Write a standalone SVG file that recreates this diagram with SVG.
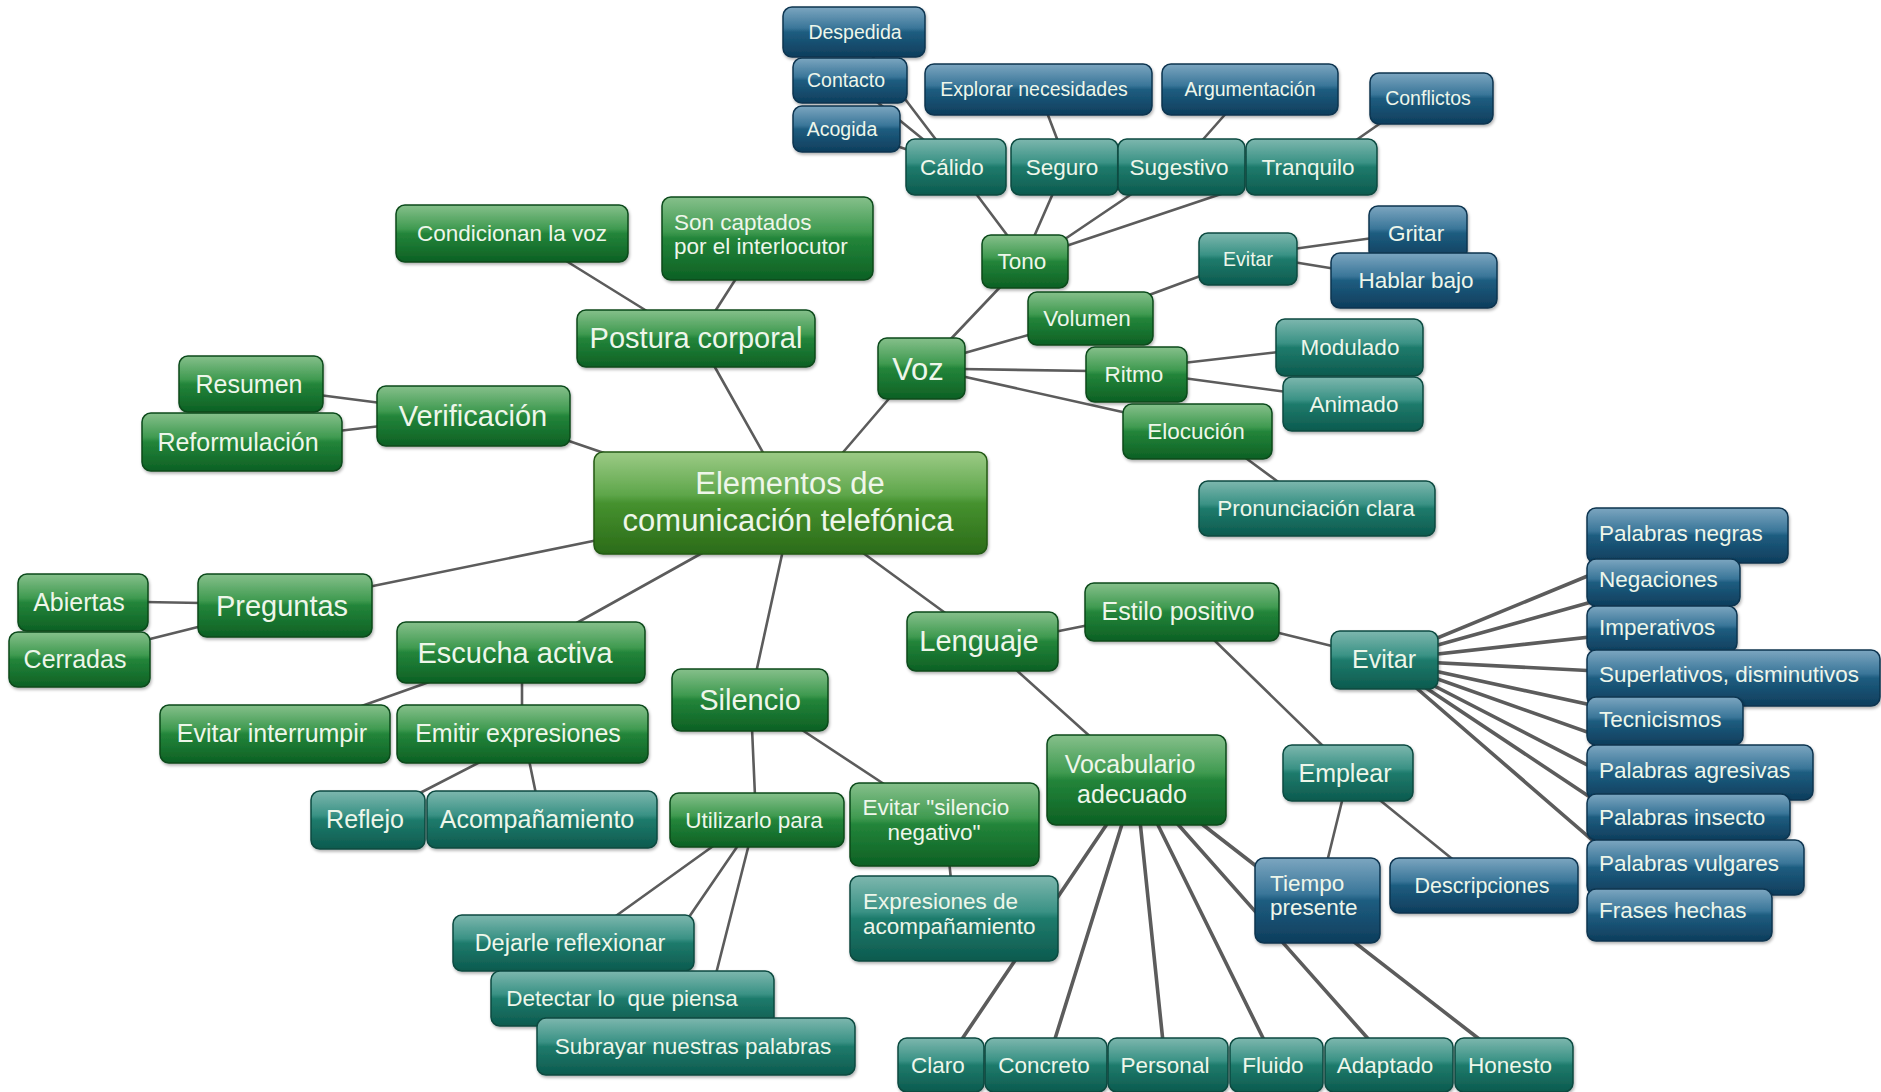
<svg xmlns="http://www.w3.org/2000/svg" width="1881" height="1092" viewBox="0 0 1881 1092">
<defs>
<linearGradient id="gG" x1="0" y1="0" x2="0" y2="1"><stop offset="0" stop-color="#86c08b"/><stop offset="0.42" stop-color="#3f9a50"/><stop offset="0.5" stop-color="#23853a"/><stop offset="1" stop-color="#0d6024"/></linearGradient>
<linearGradient id="gT" x1="0" y1="0" x2="0" y2="1"><stop offset="0" stop-color="#7db7ae"/><stop offset="0.42" stop-color="#3a9285"/><stop offset="0.5" stop-color="#1f7b6c"/><stop offset="1" stop-color="#0c5a4e"/></linearGradient>
<linearGradient id="gB" x1="0" y1="0" x2="0" y2="1"><stop offset="0" stop-color="#7ca6c0"/><stop offset="0.42" stop-color="#3a7699"/><stop offset="0.5" stop-color="#1e5d80"/><stop offset="1" stop-color="#0e3d5c"/></linearGradient>
<linearGradient id="gC" x1="0" y1="0" x2="0" y2="1"><stop offset="0" stop-color="#9ccb86"/><stop offset="0.42" stop-color="#5ea64a"/><stop offset="0.5" stop-color="#46922f"/><stop offset="1" stop-color="#2b6b18"/></linearGradient>
<filter id="sh" x="-10%" y="-10%" width="120%" height="130%"><feDropShadow dx="1" dy="2" stdDeviation="1.5" flood-color="#000" flood-opacity="0.3"/></filter>
</defs>
<style>
.c{stroke:#5c5c5c;stroke-width:2.6;stroke-linecap:round;fill:none}
.k{stroke-width:3.6}
rect{rx:9px;ry:9px;filter:url(#sh);stroke-width:1.5}
.g{fill:url(#gG);stroke:#0a4a1a}
.t{fill:url(#gT);stroke:#0a4a40}
.b{fill:url(#gB);stroke:#0b3450}
.cn{fill:url(#gC);stroke:#245a14}
text{font-family:"Liberation Sans",Arial,sans-serif;fill:#eef6ea;text-anchor:middle}
.l{text-anchor:start}
.s31{font-size:31px}.s29{font-size:29px}.s25{font-size:25px}.s23{font-size:22.5px}.s20{font-size:19.5px}
</style>
<rect x="0" y="0" width="1881" height="1092" style="fill:#fff;filter:none;stroke:none;rx:0;ry:0"/>
<g id="connectors">
<line class="c" x1="712" y1="362" x2="766" y2="458"/>
<line class="c" x1="893" y1="394" x2="839" y2="457"/>
<line class="c" x1="566" y1="440" x2="604" y2="453"/>
<line class="c" x1="368" y1="587" x2="598" y2="540"/>
<line class="c" x1="573" y1="625" x2="704" y2="552"/>
<line class="c" x1="756" y1="673" x2="783" y2="550"/>
<line class="c" x1="859" y1="550" x2="948" y2="615"/>
<line class="c" x1="563" y1="259" x2="650" y2="313"/>
<line class="c" x1="737" y1="277" x2="714" y2="313"/>
<line class="c" x1="319" y1="395" x2="381" y2="403"/>
<line class="c" x1="338" y1="431" x2="381" y2="426"/>
<line class="c" x1="144" y1="602" x2="202" y2="603"/>
<line class="c" x1="146" y1="640" x2="202" y2="626"/>
<line class="c" x1="356" y1="708" x2="432" y2="681"/>
<line class="c" x1="522" y1="680" x2="522" y2="708"/>
<line class="c" x1="418" y1="794" x2="484" y2="760"/>
<line class="c" x1="529" y1="760" x2="536" y2="794"/>
<line class="c" x1="752" y1="728" x2="755" y2="796"/>
<line class="c" x1="799" y1="728" x2="887" y2="786"/>
<line class="c" x1="716" y1="844" x2="613" y2="918"/>
<line class="c" x1="739" y1="844" x2="650" y2="974"/>
<line class="c" x1="749" y1="844" x2="704" y2="1021"/>
<line class="c" x1="949" y1="860" x2="951" y2="880"/>
<line class="c" x1="1054" y1="632" x2="1089" y2="625"/>
<line class="c" x1="1014" y1="668" x2="1094" y2="740"/>
<line class="c" x1="1275" y1="632" x2="1336" y2="647"/>
<line class="c" x1="1212" y1="638" x2="1325" y2="748"/>
<line class="c" x1="1343" y1="797" x2="1327" y2="862"/>
<line class="c" x1="1376" y1="797" x2="1456" y2="862"/>
<line class="c k" x1="1384" y1="660" x2="1687" y2="535"/>
<line class="c k" x1="1384" y1="660" x2="1663" y2="582"/>
<line class="c k" x1="1384" y1="660" x2="1662" y2="629"/>
<line class="c k" x1="1384" y1="660" x2="1733" y2="678"/>
<line class="c k" x1="1384" y1="660" x2="1665" y2="721"/>
<line class="c k" x1="1384" y1="660" x2="1700" y2="772"/>
<line class="c k" x1="1384" y1="660" x2="1688" y2="817"/>
<line class="c k" x1="1384" y1="660" x2="1695" y2="867"/>
<line class="c k" x1="1384" y1="660" x2="1679" y2="915"/>
<line class="c k" x1="1109" y1="821" x2="960" y2="1042"/>
<line class="c k" x1="1123" y1="821" x2="1054" y2="1042"/>
<line class="c k" x1="1140" y1="821" x2="1163" y2="1042"/>
<line class="c k" x1="1156" y1="821" x2="1265" y2="1042"/>
<line class="c k" x1="1175" y1="821" x2="1371" y2="1042"/>
<line class="c k" x1="1198" y1="821" x2="1483" y2="1042"/>
<line class="c" x1="1003" y1="284" x2="947" y2="343"/>
<line class="c" x1="1032" y1="334" x2="961" y2="354"/>
<line class="c" x1="961" y1="369" x2="1091" y2="371"/>
<line class="c" x1="961" y1="376" x2="1127" y2="413"/>
<line class="c" x1="974" y1="191" x2="1010" y2="239"/>
<line class="c" x1="1054" y1="191" x2="1033" y2="239"/>
<line class="c" x1="1136" y1="191" x2="1062" y2="241"/>
<line class="c" x1="1230" y1="191" x2="1060" y2="248"/>
<line class="c" x1="854" y1="32" x2="956" y2="166"/>
<line class="c" x1="850" y1="80" x2="956" y2="166"/>
<line class="c" x1="846" y1="129" x2="956" y2="166"/>
<line class="c" x1="1046" y1="110" x2="1059" y2="144"/>
<line class="c" x1="1229" y1="110" x2="1199" y2="144"/>
<line class="c" x1="1352" y1="143" x2="1385" y2="120"/>
<line class="c" x1="1149" y1="295" x2="1203" y2="275"/>
<line class="c" x1="1293" y1="249" x2="1373" y2="238"/>
<line class="c" x1="1293" y1="262" x2="1336" y2="269"/>
<line class="c" x1="1183" y1="363" x2="1279" y2="352"/>
<line class="c" x1="1183" y1="378" x2="1287" y2="392"/>
<line class="c" x1="1243" y1="456" x2="1281" y2="484"/>
</g>
<g id="central"><rect class="cn" x="594" y="452" width="393" height="102"/><text class="s31" x="790" y="494">Elementos de</text><text class="s31" x="788" y="531">comunicación telefónica</text></g>
<g id="postura"><rect class="g" x="577" y="310" width="238" height="57"/><text class="s29" x="696" y="348">Postura corporal</text></g>
<g id="condicionan"><rect class="g" x="396" y="205" width="232" height="57"/><text class="s23" x="512" y="241">Condicionan la voz</text></g>
<g id="son-captados"><rect class="g" x="662" y="197" width="211" height="83"/><text class="s23 l" x="674" y="230">Son captados</text><text class="s23 l" x="674" y="254">por el interlocutor</text></g>
<g id="verificacion"><rect class="g" x="377" y="386" width="193" height="60"/><text class="s29" x="473" y="426">Verificación</text></g>
<g id="resumen"><rect class="g" x="179" y="356" width="144" height="56"/><text class="s25" x="249" y="393">Resumen</text></g>
<g id="reformulacion"><rect class="g" x="142" y="413" width="200" height="58"/><text class="s25" x="238" y="451">Reformulación</text></g>
<g id="preguntas"><rect class="g" x="198" y="574" width="174" height="63"/><text class="s29" x="282" y="616">Preguntas</text></g>
<g id="abiertas"><rect class="g" x="18" y="574" width="130" height="57"/><text class="s25" x="79" y="611">Abiertas</text></g>
<g id="cerradas"><rect class="g" x="9" y="632" width="141" height="55"/><text class="s25" x="75" y="668">Cerradas</text></g>
<g id="escucha-activa"><rect class="g" x="397" y="622" width="248" height="61"/><text class="s29" x="515" y="663">Escucha activa</text></g>
<g id="evitar-interrumpir"><rect class="g" x="160" y="705" width="230" height="58"/><text class="s25" x="272" y="742">Evitar interrumpir</text></g>
<g id="emitir-expresiones"><rect class="g" x="397" y="705" width="251" height="58"/><text class="s25" x="518" y="742">Emitir expresiones</text></g>
<g id="reflejo"><rect class="t" x="311" y="791" width="114" height="58"/><text class="s25" x="365" y="828">Reflejo</text></g>
<g id="acompanamiento"><rect class="t" x="427" y="791" width="230" height="57"/><text class="s25" x="537" y="828">Acompañamiento</text></g>
<g id="silencio"><rect class="g" x="672" y="669" width="156" height="62"/><text class="s29" x="750" y="710">Silencio</text></g>
<g id="utilizarlo-para"><rect class="g" x="670" y="793" width="174" height="54"/><text class="s23" x="754" y="828">Utilizarlo para</text></g>
<g id="evitar-silencio"><rect class="g" x="850" y="783" width="189" height="83"/><text class="s23" x="936" y="815">Evitar "silencio</text><text class="s23" x="934" y="840">negativo"</text></g>
<g id="dejarle"><rect class="t" x="453" y="915" width="241" height="56"/><text class="s23" x="570" y="951" style="font-size:23.5px">Dejarle reflexionar</text></g>
<g id="detectar"><rect class="t" x="491" y="971" width="283" height="55"/><text class="s23" x="622" y="1006" xml:space="preserve">Detectar lo  que piensa</text></g>
<g id="subrayar"><rect class="t" x="537" y="1018" width="318" height="57"/><text class="s23" x="693" y="1054">Subrayar nuestras palabras</text></g>
<g id="expresiones"><rect class="t" x="850" y="876" width="208" height="85"/><text class="s23 l" x="863" y="909">Expresiones de</text><text class="s23 l" x="863" y="934">acompañamiento</text></g>
<g id="lenguaje"><rect class="g" x="907" y="612" width="151" height="59"/><text class="s29" x="979" y="651">Lenguaje</text></g>
<g id="estilo-positivo"><rect class="g" x="1085" y="583" width="194" height="58"/><text class="s25" x="1178" y="620">Estilo positivo</text></g>
<g id="vocabulario"><rect class="g" x="1047" y="735" width="179" height="90"/><text class="s25" x="1130" y="773">Vocabulario</text><text class="s25" x="1132" y="803">adecuado</text></g>
<g id="evitar-lenguaje"><rect class="t" x="1331" y="631" width="107" height="58"/><text class="s25" x="1384" y="668">Evitar</text></g>
<g id="emplear"><rect class="t" x="1283" y="745" width="130" height="56"/><text class="s25" x="1345" y="782">Emplear</text></g>
<g id="tiempo-presente"><rect class="b" x="1255" y="858" width="125" height="85"/><text class="s23 l" x="1270" y="891">Tiempo</text><text class="s23 l" x="1270" y="915">presente</text></g>
<g id="descripciones"><rect class="b" x="1390" y="858" width="188" height="55"/><text class="s23" x="1482" y="893" style="font-size:21.5px">Descripciones</text></g>
<g id="palabras-negras"><rect class="b" x="1587" y="508" width="201" height="55"/><text class="s23 l" x="1599" y="541">Palabras negras</text></g>
<g id="negaciones"><rect class="b" x="1587" y="559" width="153" height="47"/><text class="s23 l" x="1599" y="587">Negaciones</text></g>
<g id="imperativos"><rect class="b" x="1587" y="606" width="150" height="46"/><text class="s23 l" x="1599" y="635">Imperativos</text></g>
<g id="superlativos"><rect class="b" x="1587" y="650" width="293" height="56"/><text class="s23 l" x="1599" y="682">Superlativos, disminutivos</text></g>
<g id="tecnicismos"><rect class="b" x="1587" y="697" width="156" height="48"/><text class="s23 l" x="1599" y="727">Tecnicismos</text></g>
<g id="palabras-agresivas"><rect class="b" x="1587" y="745" width="226" height="55"/><text class="s23 l" x="1599" y="778">Palabras agresivas</text></g>
<g id="palabras-insecto"><rect class="b" x="1587" y="794" width="203" height="46"/><text class="s23 l" x="1599" y="825">Palabras insecto</text></g>
<g id="palabras-vulgares"><rect class="b" x="1587" y="840" width="217" height="55"/><text class="s23 l" x="1599" y="871">Palabras vulgares</text></g>
<g id="frases-hechas"><rect class="b" x="1587" y="889" width="185" height="52"/><text class="s23 l" x="1599" y="918">Frases hechas</text></g>
<g id="claro"><rect class="t" x="898" y="1038" width="86" height="54"/><text class="s23" x="938" y="1073">Claro</text></g>
<g id="concreto"><rect class="t" x="985" y="1038" width="122" height="54"/><text class="s23" x="1044" y="1073">Concreto</text></g>
<g id="personal"><rect class="t" x="1108" y="1038" width="120" height="54"/><text class="s23" x="1165" y="1073">Personal</text></g>
<g id="fluido"><rect class="t" x="1230" y="1038" width="93" height="54"/><text class="s23" x="1273" y="1073">Fluido</text></g>
<g id="adaptado"><rect class="t" x="1325" y="1038" width="128" height="54"/><text class="s23" x="1385" y="1073">Adaptado</text></g>
<g id="honesto"><rect class="t" x="1455" y="1038" width="118" height="54"/><text class="s23" x="1510" y="1073">Honesto</text></g>
<g id="voz"><rect class="g" x="878" y="338" width="87" height="61"/><text class="s31" x="918" y="380">Voz</text></g>
<g id="tono"><rect class="g" x="982" y="235" width="86" height="53"/><text class="s23" x="1022" y="269">Tono</text></g>
<g id="volumen"><rect class="g" x="1028" y="292" width="125" height="53"/><text class="s23" x="1087" y="326">Volumen</text></g>
<g id="ritmo"><rect class="g" x="1086" y="347" width="101" height="55"/><text class="s23" x="1134" y="382">Ritmo</text></g>
<g id="elocucion"><rect class="g" x="1123" y="404" width="149" height="55"/><text class="s23" x="1196" y="439">Elocución</text></g>
<g id="calido"><rect class="t" x="906" y="139" width="100" height="56"/><text class="s23" x="952" y="175">Cálido</text></g>
<g id="seguro"><rect class="t" x="1011" y="139" width="107" height="56"/><text class="s23" x="1062" y="175">Seguro</text></g>
<g id="sugestivo"><rect class="t" x="1118" y="139" width="127" height="56"/><text class="s23" x="1179" y="175">Sugestivo</text></g>
<g id="tranquilo"><rect class="t" x="1246" y="139" width="131" height="56"/><text class="s23" x="1308" y="175">Tranquilo</text></g>
<g id="despedida"><rect class="b" x="783" y="7" width="142" height="50"/><text class="s20" x="855" y="39">Despedida</text></g>
<g id="contacto"><rect class="b" x="793" y="58" width="114" height="45"/><text class="s20" x="846" y="87">Contacto</text></g>
<g id="acogida"><rect class="b" x="793" y="106" width="107" height="46"/><text class="s20" x="842" y="136">Acogida</text></g>
<g id="explorar"><rect class="b" x="925" y="64" width="227" height="51"/><text class="s20" x="1034" y="96">Explorar necesidades</text></g>
<g id="argumentacion"><rect class="b" x="1162" y="64" width="176" height="51"/><text class="s20" x="1250" y="96">Argumentación</text></g>
<g id="conflictos"><rect class="b" x="1370" y="73" width="123" height="51"/><text class="s20" x="1428" y="105">Conflictos</text></g>
<g id="evitar-voz"><rect class="t" x="1199" y="233" width="98" height="52"/><text class="s20" x="1248" y="266">Evitar</text></g>
<g id="gritar"><rect class="b" x="1369" y="206" width="98" height="54"/><text class="s23" x="1416" y="241">Gritar</text></g>
<g id="hablar-bajo"><rect class="b" x="1331" y="253" width="166" height="55"/><text class="s23" x="1416" y="288">Hablar bajo</text></g>
<g id="modulado"><rect class="t" x="1276" y="319" width="147" height="57"/><text class="s23" x="1350" y="355">Modulado</text></g>
<g id="animado"><rect class="t" x="1283" y="377" width="140" height="54"/><text class="s23" x="1354" y="412">Animado</text></g>
<g id="pronunciacion"><rect class="t" x="1199" y="481" width="236" height="55"/><text class="s23" x="1316" y="516">Pronunciación clara</text></g>
</svg>
